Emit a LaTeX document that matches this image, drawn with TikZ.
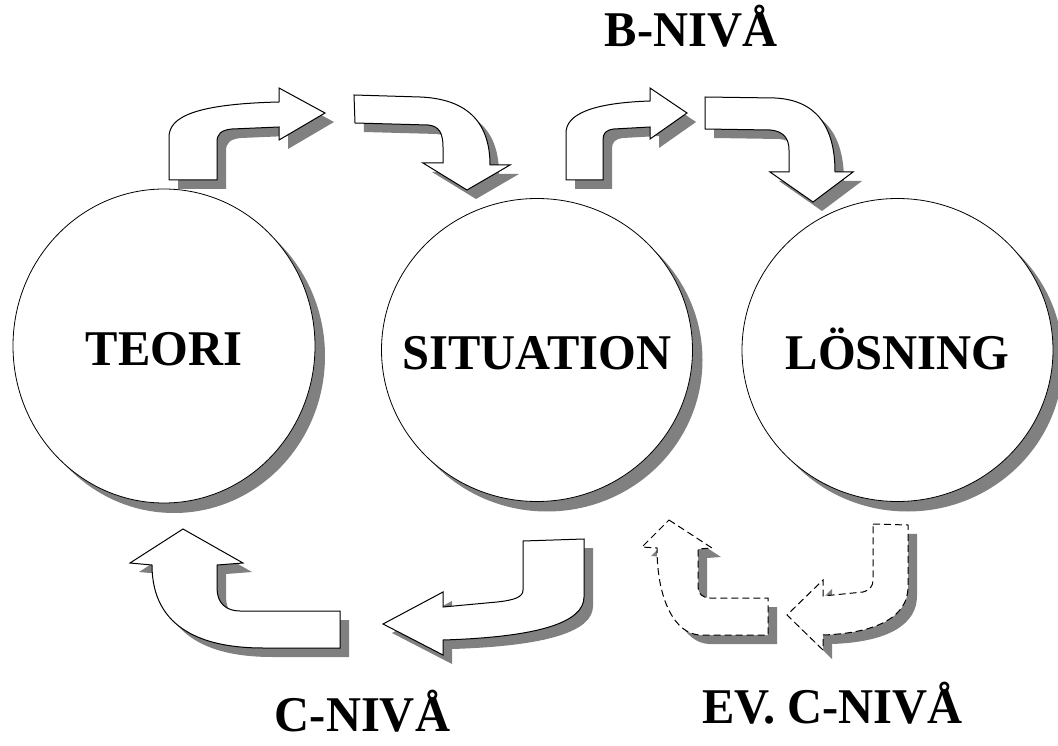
\documentclass[tikz,border=0pt]{standalone}
\usepackage{fontspec}
\setmainfont{Liberation Serif}[FakeStretch=0.97]
\usepackage{tikz}
\usetikzlibrary{shapes.geometric, shadows, positioning}
\definecolor{shadowgray}{gray}{0.5}

\tikzset{
  bubble/.style={ellipse, draw, line width=0.8pt, fill=white, inner sep=0pt,
    minimum width=311pt, minimum height=303pt,
    drop shadow={shadow xshift=10pt, shadow yshift=-10pt, fill=shadowgray, opacity=1}},
  bubbletext/.style={font=\fontsize{50}{60}\selectfont\bfseries, inner sep=0pt,
    text height=38.5pt, text depth=0pt},
  nivalabel/.style={font=\fontsize{50}{60}\selectfont\bfseries, inner sep=0pt,
    text height=32.7pt, text depth=0pt},
  bentarrow/.style={draw, line width=1pt, fill=white, line join=miter,
    drop shadow={shadow xshift=9pt, shadow yshift=-9pt, fill=shadowgray, opacity=1}},
  maybearrow/.style={bentarrow, dash pattern=on 7pt off 4pt}
}

\begin{document}
\begin{tikzpicture}[x=1pt,y=-1pt]
  \useasboundingbox (0,0) rectangle (1058,746);

  % circles
  \node[bubble, minimum width=302pt, minimum height=314pt] (teori) at (164,346) {};
  \node[bubble] (situation) at (537,350) {};
  \node[bubble] (losning) at (897.5,350) {};
  \node[bubbletext] (teoritext) at (teori) {TEORI};
  \node[bubbletext] (situationtext) at (situation) {SITUATION};
  \node[bubbletext] (losningtext) at (losning) {LÖSNING};

  % B-level, upper arrows
  \draw[bentarrow] (169,180) -- (169,137) .. controls (169,117) and (195,104) .. (279,102)
    -- (279,88) -- (325,113) -- (279,140) -- (279,127) -- (232,129)
    .. controls (221,130) and (217,134) .. (217,142) -- (217,180) -- cycle;
  \draw[bentarrow] (354,95) -- (420,97) .. controls (470,99) and (490,125) .. (490,165)
    -- (510,165) -- (467,190) -- (423,163) -- (443,163) -- (443,147)
    .. controls (443,133) and (439,126) .. (428,125) -- (355,123) -- cycle;
  \draw[bentarrow] (566,180) -- (566,133) .. controls (566,115) and (590,103) .. (650,101)
    -- (650,88) -- (687,113) -- (650,139) -- (650,127) -- (614,129)
    .. controls (606,130) and (603,133) .. (603,140) -- (603,180) -- cycle;
  \draw[bentarrow] (705,97) -- (775,98) .. controls (815,100) and (835,125) .. (835,172)
    -- (853,172) -- (813,202) -- (770,172) -- (789,172) -- (789,150)
    .. controls (789,138) and (783,131) .. (770,130) -- (705,129) -- cycle;

  % C-level, lower arrows
  \draw[bentarrow] (523,541) -- (584,539) -- (584,597) .. controls (584,622) and (540,637) .. (443,640)
    -- (443,655) -- (383,624) -- (443,592) -- (443,607) -- (497,602)
    .. controls (515,600) and (523,597) .. (523,590) -- cycle;
  \draw[bentarrow] (183,529) -- (243,563) -- (217,565) -- (217,588)
    .. controls (217,603) and (226,611) .. (240,611) -- (340,611) -- (340,648) -- (263,648)
    .. controls (205,648) and (152,630) .. (152,565) -- (130,563) -- cycle;
  \draw[maybearrow] (873,524) -- (908,525) -- (908,587) .. controls (908,615) and (880,633) .. (823,635)
    -- (823,650) -- (787,615) -- (823,580) -- (823,596) -- (863,592)
    .. controls (870,590) and (873,586) .. (873,580) -- cycle;
  \draw[maybearrow] (669,520) -- (712,548) -- (698,549) -- (698,587)
    .. controls (698,594) and (703,598) .. (710,598) -- (768,598) -- (768,635) -- (700,635)
    .. controls (675,634) and (657,600) .. (657,548) -- (642,547) -- cycle;

  % levels
  \node[nivalabel] (bniva) at (691,30.5) {B-NIVÅ};
  \node[nivalabel] (cniva) at (362.5,715) {C-NIVÅ};
  \node[nivalabel] (evcniva) at (832.5,707.5) {EV. C-NIVÅ};
\end{tikzpicture}
\end{document}
